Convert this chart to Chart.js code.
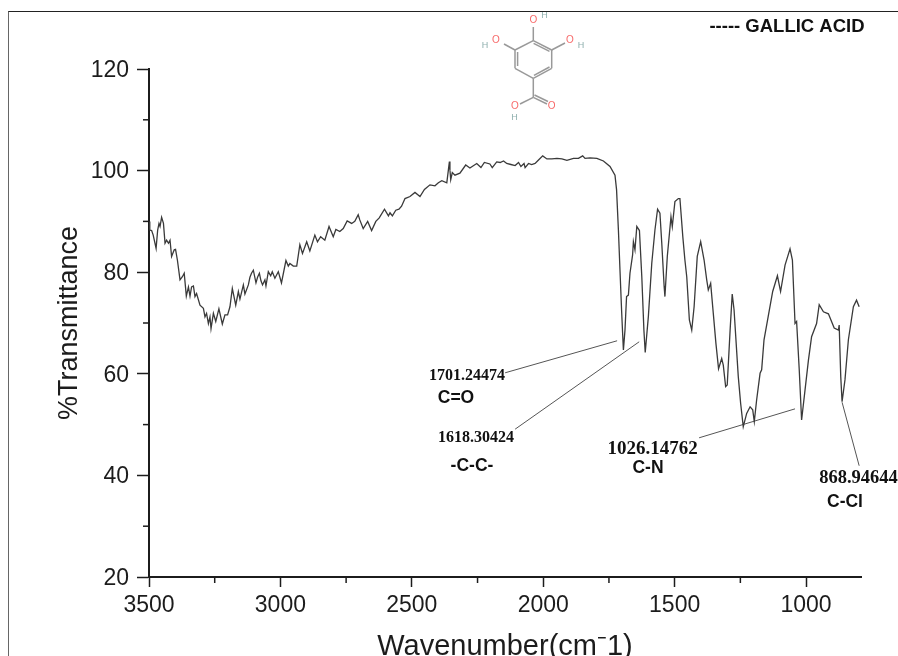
<!DOCTYPE html>
<html lang="en">
<head>
  <meta charset="UTF-8">
  <title>Gallic acid FTIR</title>
  <script src="https://cdn.jsdelivr.net/npm/chart.js"></script>
  <style>
    html, body { margin: 0; padding: 0; background: #fff; overflow: hidden; }
    #wrap { position: relative; width: 898px; height: 656px; }
    #frame { position: absolute; left: 8px; top: 11px; right: 0; bottom: 0; border-left: 1px solid #666; border-top: 1px solid #222; }
    canvas { position: absolute; left: 0; top: 0; }
    svg { position: absolute; left: 0; top: 0; }
    svg line { stroke: #999; stroke-width: 1.5; }
    svg text { font: 9px "Liberation Sans", sans-serif; text-anchor: middle; dominant-baseline: middle; }
    svg text.o { fill: #f76a6a; font-size: 10px; }
    svg text.h { fill: #8fb0ae; }
  </style>
</head>
<body>
<div id="wrap">
  <div id="frame"></div>
  <canvas id="irChart" width="898" height="656"></canvas>
  <!-- structure of gallic acid -->
  <svg width="898" height="130">
    <line x1="533.3" y1="40.7" x2="551.7" y2="50"/>
    <line x1="533.6" y1="43.4" x2="549.5" y2="51.4"/>
    <line x1="551.7" y1="50" x2="551.7" y2="68.3"/>
    <line x1="551.7" y1="68.3" x2="533.3" y2="78.3"/>
    <line x1="549.5" y1="67" x2="534" y2="75.4"/>
    <line x1="533.3" y1="78.3" x2="515" y2="68.3"/>
    <line x1="515" y1="68.3" x2="515" y2="50"/>
    <line x1="517.6" y1="66" x2="517.6" y2="52"/>
    <line x1="515" y1="50" x2="533.3" y2="40.7"/>
    <line x1="533.3" y1="40.7" x2="533.3" y2="27"/>
    <line x1="515" y1="50" x2="504" y2="44"/>
    <line x1="551.7" y1="50" x2="565" y2="43"/>
    <line x1="533.3" y1="78.3" x2="533.3" y2="97.3"/>
    <line x1="533.3" y1="97.3" x2="520" y2="104"/>
    <line x1="533.3" y1="97.3" x2="547" y2="104"/>
    <line x1="534.5" y1="95" x2="548" y2="101.5"/>
    <text class="o" x="533.3" y="20.7">O</text>
    <text class="h" x="544.5" y="15.5">H</text>
    <text class="o" x="496" y="40">O</text>
    <text class="h" x="485" y="45.5">H</text>
    <text class="o" x="570" y="40">O</text>
    <text class="h" x="581" y="45.5">H</text>
    <text class="o" x="551.7" y="106">O</text>
    <text class="o" x="515" y="106">O</text>
    <text class="h" x="514.5" y="117.5">H</text>
  </svg>
</div>

<script>
const wavenumbers = [
  3500,3497,3490,3484,3473,3467,3462,3458,3452,3445,3439,3433,3426,3420,3414,3404,3399,3392,3382,3373,
  3366,3358,3350,3344,3338,3331,3325,3319,3306,3293,3287,3281,3274,3268,3264,3255,3246,3234,3221,3211,
  3201,3192,3183,3170,3160,3154,3141,3135,3122,3116,3110,3103,3093,3087,3080,3074,3068,3059,3055,3046,
  3037,3031,3021,3008,3002,2996,2979,2970,2964,2951,2938,2926,2916,2900,2888,2869,2859,2847,2831,2815,
  2799,2789,2774,2761,2746,2729,2717,2704,2698,2685,2668,2653,2637,2624,2604,2589,2583,2574,2561,2549,
  2539,2526,2507,2488,2469,2452,2431,2412,2399,2386,2367,2361,2357,2355,2352,2346,2336,2317,2295,2279,
  2253,2237,2224,2203,2194,2177,2164,2151,2139,2123,2107,2094,2085,2073,2069,2056,2044,2031,2018,2002,
  1986,1967,1948,1929,1910,1885,1866,1850,1841,1822,1796,1771,1746,1727,1721,1714,1708,1702,1698,1695,
  1689,1683,1676,1670,1660,1657,1651,1644,1634,1625,1617,1612,1600,1587,1575,1565,1556,1549,1540,1537,
  1528,1514,1509,1499,1486,1480,1469,1461,1454,1444,1435,1426,1414,1401,1388,1378,1372,1363,1353,1343,
  1333,1321,1315,1306,1300,1289,1281,1274,1258,1249,1239,1226,1213,1203,1197,1188,1175,1169,1160,1144,
  1127,1109,1097,1080,1061,1052,1042,1036,1026,1017,1004,991,979,960,950,934,915,893,877,874,
  868,863,852,839,820,808,798
];
const transmittance = [
  90.0,88.3,88.2,87.3,84.7,88.3,89.6,89.0,90.8,89.6,85.7,86.3,85.7,86.3,83.1,84.4,84.5,82.4,78.5,79.1,
  79.8,75.3,77.1,75.3,77.1,77.3,75.2,75.8,73.5,72.9,71.2,71.9,69.9,71.2,68.9,71.9,70.3,72.8,69.8,71.6,
  71.6,73.2,76.8,73.5,76.2,74.7,77.5,75.7,77.5,79.0,79.8,80.4,77.9,79.0,79.8,78.3,77.5,78.5,77.3,80.1,
  79.3,80.1,78.8,80.1,79.0,77.9,82.3,81.2,81.7,81.2,81.2,85.4,83.7,86.0,84.2,87.3,86.0,87.0,86.3,89.0,
  87.0,88.4,88.0,88.6,90.1,89.6,90.0,91.3,90.3,88.6,90.0,88.2,90.0,90.7,92.4,91.1,91.7,91.1,92.2,92.4,
  93.0,94.5,94.9,95.7,94.9,96.3,97.2,97.0,97.6,98.0,97.6,100.1,101.8,100.1,98.2,99.6,99.1,99.5,101.1,100.5,
  101.4,100.6,101.6,101.3,100.6,101.7,101.6,101.9,101.4,101.2,101.0,101.6,100.8,101.4,100.6,101.4,101.2,101.4,102.1,102.9,
  102.3,102.3,102.4,102.3,102.0,102.4,102.4,102.9,102.4,102.5,102.4,101.9,100.8,99.1,96.2,88.3,80.4,72.6,68.0,64.7,
  68.6,75.2,75.5,79.8,83.4,86.0,84.4,89.0,88.2,79.1,68.6,64.2,71.3,81.8,88.3,92.4,91.6,85.7,77.2,75.2,
  83.1,90.9,89.0,93.9,94.5,94.5,87.0,82.4,79.1,70.6,68.6,73.2,83.1,86.0,82.4,78.5,76.5,77.8,71.9,66.0,
  61.0,63.0,61.7,57.5,57.8,68.6,75.7,72.6,59.5,54.2,49.6,52.2,53.5,52.9,50.6,54.9,60.1,60.8,66.7,71.3,
  76.2,79.3,76.2,81.4,84.6,82.4,69.9,70.3,60.8,50.9,56.8,62.7,67.3,69.9,73.6,72.2,71.8,69.0,68.6,69.6,
  59.4,54.5,58.8,66.7,73.2,74.5,73.2
];

const xTicks = [3500, 3000, 2500, 2000, 1500, 1000];
const yTicks = [20, 40, 60, 80, 100, 120];
const xMinorTicks = [3250, 2750, 2250, 1750, 1250];
const yMinorTicks = [30, 50, 70, 90, 110];

// leader lines from the peak labels, [wavenumber, %T]
const leaderCO = [[2145, 60.2], [1719, 66.5]];
const leaderCC = [[2107, 49.1], [1635, 66.3]];
const leaderCN = [[1407, 47.4], [1042, 53.1]];
const leaderCCl = [[863, 54.4], [798, 41.9]];

const sans = 'bold 17.5px "Liberation Sans", sans-serif';
const notes = [
  { text: '1701.24474', x: 467, y: 376, font: 'bold 16px "Liberation Serif", serif' },
  { text: 'C=O', x: 456, y: 398, font: sans },
  { text: '1618.30424', x: 476, y: 438, font: 'bold 16px "Liberation Serif", serif' },
  { text: '-C-C-', x: 472, y: 466, font: sans },
  { text: '1026.14762', x: 652.5, y: 449, font: 'bold 19px "Liberation Serif", serif' },
  { text: 'C-N', x: 648, y: 468, font: sans },
  { text: '868.94644', x: 858.5, y: 478, font: 'bold 18.5px "Liberation Serif", serif' },
  { text: 'C-Cl', x: 845, y: 502, font: sans },
  { text: '----- GALLIC ACID', x: 787, y: 27, font: 'bold 18.5px "Liberation Sans", sans-serif' }
];

const inkColor = '#1c1c1c';

function toPoints(pairs) {
  return pairs.map(p => ({ x: p[0], y: p[1] }));
}

function leader(pairs) {
  return { data: toPoints(pairs), borderColor: '#555', borderWidth: 1, pointRadius: 0, showLine: true };
}

// minor ticks and free text, chart.js has no per tick length
const extras = {
  id: 'extras',
  afterDraw(chart) {
    const ctx = chart.ctx;
    const xs = chart.scales.x;
    const ys = chart.scales.y;
    ctx.save();
    ctx.strokeStyle = inkColor;
    ctx.lineWidth = 1.5;
    xMinorTicks.forEach(v => {
      const px = xs.getPixelForValue(v);
      ctx.beginPath();
      ctx.moveTo(px, ys.bottom);
      ctx.lineTo(px, ys.bottom + 6);
      ctx.stroke();
    });
    yMinorTicks.forEach(v => {
      const py = ys.getPixelForValue(v);
      ctx.beginPath();
      ctx.moveTo(xs.left, py);
      ctx.lineTo(xs.left - 6, py);
      ctx.stroke();
    });
    ctx.fillStyle = '#111';
    ctx.textAlign = 'center';
    ctx.textBaseline = 'middle';
    notes.forEach(n => {
      ctx.font = n.font;
      ctx.fillText(n.text, n.x, n.y);
    });
    ctx.restore();
  }
};

new Chart(document.getElementById('irChart'), {
  type: 'scatter',
  data: {
    datasets: [
      {
        data: wavenumbers.map((w, i) => ({ x: w, y: transmittance[i] })),
        borderColor: '#3a3a3a',
        borderWidth: 1.3,
        pointRadius: 0,
        showLine: true,
        tension: 0
      },
      leader(leaderCO),
      leader(leaderCC),
      leader(leaderCN),
      leader(leaderCCl)
    ]
  },
  options: {
    responsive: false,
    animation: false,
    layout: { padding: { top: 69, right: 37, left: 0, bottom: 0 } },
    plugins: { legend: { display: false }, tooltip: { enabled: false } },
    scales: {
      x: {
        type: 'linear',
        reverse: true,
        min: 791,
        max: 3500,
        afterFit(scale) { scale.height = 79; },
        afterBuildTicks(scale) { scale.ticks = xTicks.map(v => ({ value: v })); },
        grid: { drawOnChartArea: false, tickLength: 10, tickColor: inkColor, tickWidth: 1.5 },
        border: { color: inkColor, width: 2 },
        ticks: {
          color: inkColor,
          padding: 5,
          maxRotation: 0,
          autoSkip: false,
          font: { family: '"Liberation Sans", sans-serif', size: 23 },
          callback: v => String(v)
        },
        title: {
          display: true,
          text: 'Wavenumber(cm\u207B1)',
          color: inkColor,
          padding: { top: 0, bottom: -8 },
          font: { family: '"Liberation Sans", sans-serif', size: 29 }
        }
      },
      y: {
        min: 20,
        max: 120,
        afterFit(scale) { scale.width = 149; },
        afterBuildTicks(scale) { scale.ticks = yTicks.map(v => ({ value: v })); },
        grid: { drawOnChartArea: false, tickLength: 12, tickColor: inkColor, tickWidth: 1.5 },
        border: { color: inkColor, width: 2 },
        ticks: {
          color: inkColor,
          padding: 8,
          labelOffset: 1.5,
          autoSkip: false,
          font: { family: '"Liberation Sans", sans-serif', size: 23 }
        },
        title: {
          display: true,
          text: '%Transmittance',
          color: inkColor,
          padding: { top: 53, bottom: 0 },
          font: { family: '"Liberation Sans", sans-serif', size: 27 }
        }
      }
    }
  },
  plugins: [extras]
});
</script>
</body>
</html>
